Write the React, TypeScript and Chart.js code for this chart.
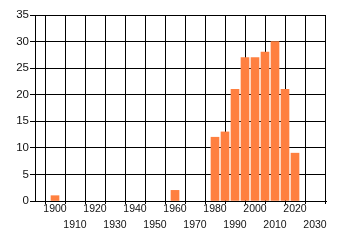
import React, { useEffect, useRef } from "react";
import { Chart, registerables } from "chart.js";

Chart.register(...registerables);

const years = [1900, 1960, 1980, 1985, 1990, 1995, 2000, 2005, 2010, 2015, 2020];
const counts = [1, 2, 12, 13, 21, 27, 27, 28, 30, 21, 9];
const xTicks = [1890, 1900, 1910, 1920, 1930, 1940, 1950, 1960, 1970, 1980, 1990, 2000, 2010, 2020, 2030];
const yTicks = [0, 5, 10, 15, 20, 25, 30, 35];

export default function App() {
  const ref = useRef<HTMLCanvasElement>(null);
  useEffect(() => {
    document.body.style.margin = "0";
    const font = { family: "'Liberation Sans', Arial, sans-serif", size: 10.5, lineHeight: 1.5 };
    const chart = new Chart(ref.current!, {
      type: "bar",
      data: {
        datasets: [
          {
            data: years.map((y, i) => ({ x: y, y: counts[i] })),
            backgroundColor: "#FF8040",
            barThickness: 8,
            borderWidth: 0,
          },
        ],
      },
      options: {
        animation: false,
        responsive: false,
        maintainAspectRatio: false,
        layout: { padding: { top: 15, right: 14, left: 0, bottom: 0 } },
        plugins: { legend: { display: false }, tooltip: { enabled: false } },
        scales: {
          x: {
            type: "linear",
            min: 1890,
            max: 2035.5,
            offset: false,
            afterBuildTicks: (s: any) => {
              s.ticks = xTicks.map((v) => ({ value: v }));
            },
            afterFit: (s: any) => {
              s.height = 44;
            },
            grid: { color: "#000", lineWidth: 1, tickLength: 3, drawTicks: true, tickColor: "#000" },
            border: { display: true, color: "#000" },
            ticks: {
              autoSkip: false,
              maxRotation: 0,
              padding: -2.5,
              color: "#111",
              font,
              callback: (v: any) => {
                const n = Number(v);
                if (n === 1890) return "";
                const idx = (n - 1900) / 10;
                return idx % 2 === 0 ? String(n) : ["", String(n)];
              },
            },
          },
          y: {
            min: 0,
            max: 35,
            afterBuildTicks: (s: any) => {
              s.ticks = yTicks.map((v) => ({ value: v }));
            },
            afterFit: (s: any) => {
              s.width = 35;
            },
            grid: { color: "#000", lineWidth: 1, tickLength: 5, tickColor: "#000" },
            border: { display: true, color: "#000" },
            ticks: { padding: 1, color: "#111", font: { ...font, size: 11.5 } },
          },
        },
      },
    });
    return () => chart.destroy();
  }, []);
  return (
    <div style={{ position: "absolute", left: 0, top: 0, width: 340, height: 245 }}>
      <canvas ref={ref} width={340} height={245} style={{ width: 340, height: 245 }} />
    </div>
  );
}
